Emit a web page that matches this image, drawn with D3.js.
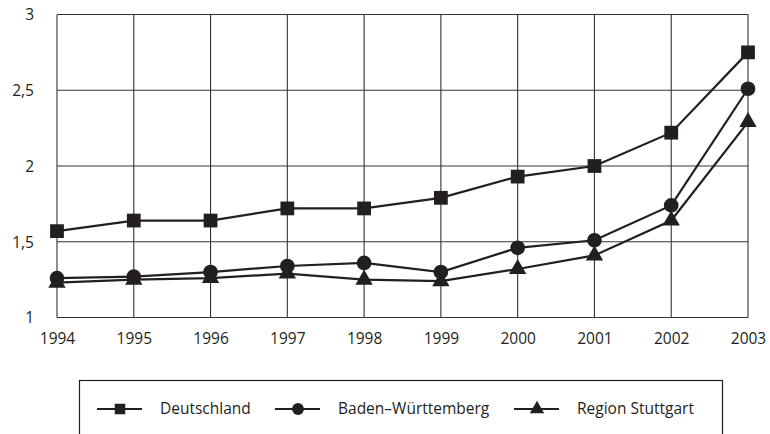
<!DOCTYPE html>
<html><head><meta charset="utf-8">
<script src="https://cdn.jsdelivr.net/npm/d3@7"></script>
<style>body{margin:0;background:#fff}svg{display:block}text{font-family:"Open Sans",sans-serif;fill:#231f20}</style>
</head><body><svg id="c" width="770" height="434"></svg>
<script>
const years = ["1994","1995","1996","1997","1998","1999","2000","2001","2002","2003"];
const deutschland = [1.57,1.64,1.64,1.72,1.72,1.79,1.93,2.00,2.22,2.75];
const badenWuerttemberg = [1.26,1.27,1.30,1.34,1.36,1.30,1.46,1.51,1.74,2.51];
const regionStuttgart = [1.23,1.25,1.26,1.29,1.25,1.24,1.32,1.41,1.64,2.29];
const yTicks = [1,1.5,2,2.5,3];
const yTickLabels = ["1","1,5","2","2,5","3"];
const seriesNames = ["Deutschland","Baden–Württemberg","Region Stuttgart"];

const svg = d3.select("#c");
const ink = "#231f20";
const x = d3.scalePoint().domain(years).range([57,748]);
const y = d3.scaleLinear().domain([1,3]).range([317.5,14.5]);

// grid
const g = svg.append("g");
g.selectAll(".vg").data(years).join("line")
 .attr("x1",d=>x(d)).attr("x2",d=>x(d)).attr("y1",y(1)).attr("y2",y(3))
 .attr("stroke","#333").attr("stroke-width",1.1);
g.selectAll(".hg").data(yTicks).join("line")
 .attr("x1",x(years[0])).attr("x2",x(years[years.length-1])).attr("y1",d=>y(d)).attr("y2",d=>y(d))
 .attr("stroke","#333").attr("stroke-width",1.1);

// axes via d3
const yAxis = d3.axisLeft(y).tickValues(yTicks).tickFormat((d,i)=>yTickLabels[i]).tickSize(0).tickPadding(0);
const ya = svg.append("g").attr("transform","translate(34,0)").call(yAxis);
ya.select(".domain").remove();
ya.selectAll("text").attr("font-size",15.5).attr("font-family","Open Sans").attr("fill",ink).attr("dy","0.35em");

const xAxis = d3.axisBottom(x).tickSize(0).tickPadding(0);
const xa = svg.append("g").attr("transform","translate(0,332)").call(xAxis);
xa.select(".domain").remove();
xa.selectAll("text").attr("font-size",15.5).attr("font-family","Open Sans").attr("fill",ink).attr("dy","0.75em");

const data = [deutschland,badenWuerttemberg,regionStuttgart];
const symbols = [d3.symbolSquare,d3.symbolCircle,d3.symbolTriangle];
const sizes = [190,170,130];
const line = d3.line().x((d,i)=>x(years[i])).y(d=>y(d));
data.forEach((s,k)=>{
  svg.append("path").datum(s).attr("d",line).attr("fill","none").attr("stroke",ink).attr("stroke-width",2.2);
  svg.selectAll(".m"+k).data(s).join("path")
   .attr("transform",(d,i)=>`translate(${x(years[i])},${y(d)})`)
   .attr("d",d3.symbol().type(symbols[k]).size(sizes[k])).attr("fill",ink);
});

// legend
svg.append("rect").attr("x",79.5).attr("y",380.5).attr("width",643).attr("height",80)
 .attr("fill","none").attr("stroke",ink).attr("stroke-width",1.2);
const lx = [97,275,514];
const tx = [160,338,577];
const lsizes = [110,110,90];
seriesNames.forEach((n,k)=>{
  svg.append("line").attr("x1",lx[k]).attr("x2",lx[k]+45).attr("y1",409).attr("y2",409).attr("stroke",ink).attr("stroke-width",2);
  svg.append("path").attr("transform",`translate(${lx[k]+23},409)`).attr("d",d3.symbol().type(symbols[k]).size(lsizes[k])).attr("fill",ink);
  svg.append("text").attr("x",tx[k]).attr("y",409).attr("dy","0.35em").attr("font-size",15.5).text(n);
});
</script></body></html>
